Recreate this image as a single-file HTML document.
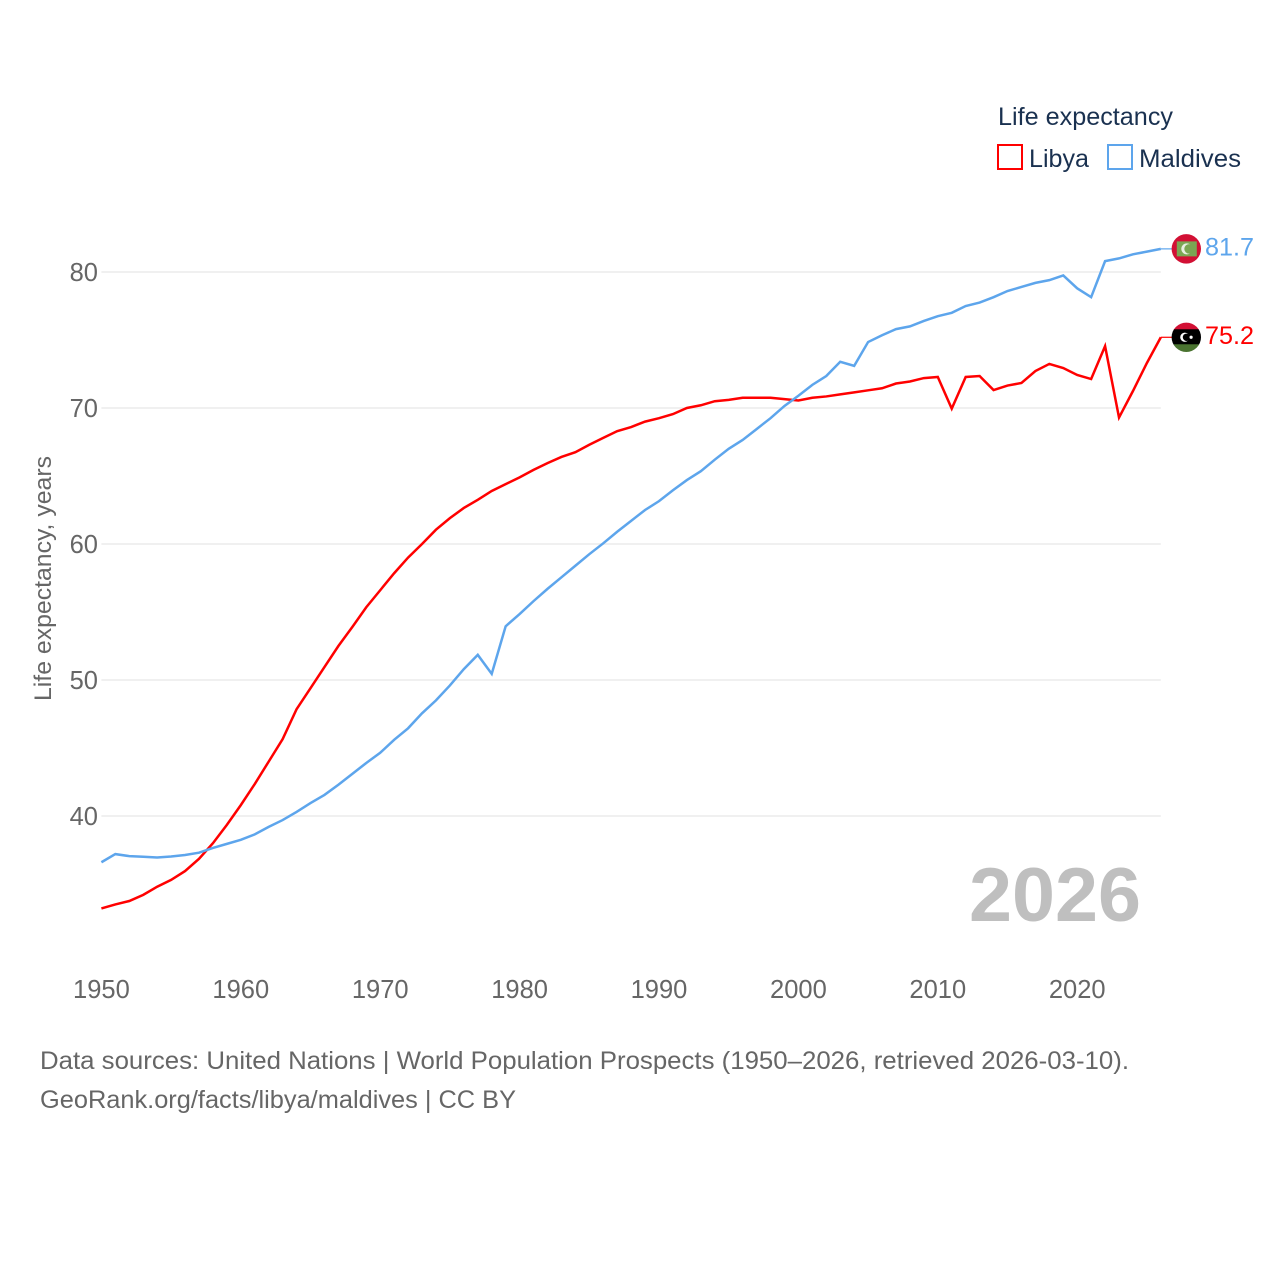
<!DOCTYPE html>
<html lang="en">
<head>
<meta charset="utf-8">
<title>Life expectancy: Libya and Maldives</title>
<style>
html,body{margin:0;padding:0;background:#fff;}
svg{display:block;}
text{font-family:"Liberation Sans",sans-serif;}
</style>
</head>
<body>
<svg id="chart" width="1280" height="1280" viewBox="0 0 1280 1280" xmlns="http://www.w3.org/2000/svg">
  <defs>
    <clipPath id="libya-clip"><circle cx="0" cy="0" r="14.7"/></clipPath>
    <clipPath id="maldives-clip"><circle cx="0" cy="0" r="14.7"/></clipPath>
  </defs>
  <rect x="0" y="0" width="1280" height="1280" fill="#ffffff"/>
  <g id="grid"></g>
  <g id="y-ticks"></g>
  <g id="x-ticks"></g>
  <text transform="translate(51,701) rotate(-90)" font-size="24" fill="#666666" textLength="245" lengthAdjust="spacingAndGlyphs">Life expectancy, years</text>
  <text x="969" y="921" font-size="76" font-weight="700" fill="#bfbfbf" textLength="172" lengthAdjust="spacingAndGlyphs">2026</text>
  <g id="series"></g>
  <g>
    <text x="998" y="125" font-size="25" fill="#1a3150" textLength="175" lengthAdjust="spacingAndGlyphs">Life expectancy</text>
    <rect x="998" y="145" width="24" height="24" fill="none" stroke="#ff0000" stroke-width="2"/>
    <text x="1029" y="167" font-size="25" fill="#1a3150" textLength="60" lengthAdjust="spacingAndGlyphs">Libya</text>
    <rect x="1108" y="145" width="24" height="24" fill="none" stroke="#5da5ec" stroke-width="2"/>
    <text x="1139" y="167" font-size="25" fill="#1a3150" textLength="102" lengthAdjust="spacingAndGlyphs">Maldives</text>
  </g>
  <g id="flag-maldives">
    <g clip-path="url(#maldives-clip)">
      <rect x="-15" y="-15" width="30" height="30" fill="#d21034"/>
      <rect x="-9.5" y="-7.5" width="20" height="15" fill="#7ba653"/>
      <circle cx="0.5" cy="0" r="5.5" fill="#e8eee0"/>
      <circle cx="2.8" cy="0" r="4.8" fill="#7ba653"/>
    </g>
  </g>
  <g id="flag-libya">
    <g clip-path="url(#libya-clip)">
      <rect x="-15" y="-15" width="30" height="8" fill="#d21034"/>
      <rect x="-15" y="-8" width="30" height="15.5" fill="#000000"/>
      <rect x="-15" y="7" width="30" height="8" fill="#4a7330"/>
      <circle cx="-1.5" cy="0" r="4.6" fill="#ffffff"/>
      <circle cx="0.2" cy="0" r="3.7" fill="#000000"/>
      <circle cx="4.8" cy="0" r="1.6" fill="#ffffff"/>
    </g>
  </g>
  <text x="40" y="1069" font-size="25" fill="#666666" textLength="1089" lengthAdjust="spacingAndGlyphs">Data sources: United Nations | World Population Prospects (1950–2026, retrieved 2026-03-10).</text>
  <text x="40" y="1108" font-size="25" fill="#666666" textLength="476" lengthAdjust="spacingAndGlyphs">GeoRank.org/facts/libya/maldives | CC BY</text>
</svg>
<script>
const startYear = 1950;
const yTickValues = [40, 50, 60, 70, 80];
const xTickValues = [1950, 1960, 1970, 1980, 1990, 2000, 2010, 2020];
const libyaValues = [
  33.2, 33.5, 33.75, 34.2, 34.8, 35.3, 35.95, 36.85, 38.0, 39.35,
  40.8, 42.35, 44.0, 45.65, 47.85, 49.4, 50.95, 52.5, 53.9, 55.35,
  56.6, 57.85, 59.0, 60.0, 61.05, 61.9, 62.65, 63.25, 63.9, 64.4,
  64.9, 65.45, 65.95, 66.4, 66.75, 67.3, 67.8, 68.3, 68.6, 69.0,
  69.25, 69.55, 70.0, 70.2, 70.5, 70.6, 70.75, 70.75, 70.75, 70.65,
  70.55, 70.75, 70.85, 71.0, 71.15, 71.3, 71.45, 71.8, 71.95, 72.2,
  72.28, 69.95, 72.28, 72.35, 71.32, 71.65, 71.84, 72.72, 73.24, 72.94,
  72.43, 72.13, 74.55, 69.3, 71.25, 73.31, 75.2
];
const maldivesValues = [
  36.6, 37.2, 37.05, 37.0, 36.95, 37.02, 37.13, 37.3, 37.65, 37.95,
  38.25, 38.65, 39.2, 39.7, 40.3, 40.95, 41.55, 42.3, 43.1, 43.9,
  44.65, 45.6, 46.45, 47.55, 48.5, 49.6, 50.8, 51.85, 50.45, 53.95,
  54.85, 55.8, 56.7, 57.55, 58.4, 59.25, 60.05, 60.9, 61.7, 62.5,
  63.15, 63.95, 64.7, 65.35, 66.2, 67.0, 67.65, 68.45, 69.25, 70.15,
  70.9, 71.7, 72.35, 73.4, 73.1, 74.85, 75.35, 75.8, 76.0, 76.4,
  76.75, 77.0, 77.5, 77.75, 78.15, 78.6, 78.9, 79.2, 79.4, 79.75,
  78.8, 78.15, 80.8, 81.0, 81.3, 81.5, 81.7
];

const SVG_NS = 'http://www.w3.org/2000/svg';
function xScale(year) { return 101.4 + (year - 1950) * 13.94; }
function yScale(value) { return 816 - (value - 40) * 13.6; }
const plotRight = xScale(2026);

const gridGroup = document.getElementById('grid');
const yTickGroup = document.getElementById('y-ticks');
const xTickGroup = document.getElementById('x-ticks');
const seriesGroup = document.getElementById('series');
const chartRoot = document.getElementById('chart');

yTickValues.forEach(function (v) {
  const line = document.createElementNS(SVG_NS, 'line');
  
  
  line.setAttribute('x1', xScale(1950));
  line.setAttribute('x2', plotRight);
  line.setAttribute('y1', yScale(v));
  line.setAttribute('y2', yScale(v));
  line.setAttribute('stroke', '#ececec');
  line.setAttribute('stroke-width', '1.6');
  gridGroup.appendChild(line);

  const label = document.createElementNS(SVG_NS, 'text');
  
  
  label.setAttribute('x', 98);
  label.setAttribute('y', yScale(v) + 9);
  label.setAttribute('text-anchor', 'end');
  label.setAttribute('font-size', '25.5');
  label.setAttribute('fill', '#666666');
  label.textContent = String(v);
  yTickGroup.appendChild(label);
});

xTickValues.forEach(function (yr) {
  const label = document.createElementNS(SVG_NS, 'text');
  
  
  label.setAttribute('x', xScale(yr));
  label.setAttribute('y', 998);
  label.setAttribute('text-anchor', 'middle');
  label.setAttribute('font-size', '25.5');
  label.setAttribute('fill', '#666666');
  label.textContent = String(yr);
  xTickGroup.appendChild(label);
});

function linePath(values) {
  return values.map(function (v, i) {
    return (i ? 'L' : 'M') + xScale(startYear + i).toFixed(2) + ' ' + yScale(v).toFixed(2);
  }).join(' ');
}

function drawSeries(values, color, key) {
  const path = document.createElementNS(SVG_NS, 'path');
  
  
  path.setAttribute('d', linePath(values));
  path.setAttribute('fill', 'none');
  path.setAttribute('stroke', color);
  path.setAttribute('stroke-width', '2.5');
  path.setAttribute('stroke-linejoin', 'miter');
  seriesGroup.appendChild(path);

  const last = values[values.length - 1];
  const endY = yScale(last);

  const connector = document.createElementNS(SVG_NS, 'line');
  
  
  connector.setAttribute('x1', plotRight);
  connector.setAttribute('x2', 1172);
  connector.setAttribute('y1', endY);
  connector.setAttribute('y2', endY);
  connector.setAttribute('stroke', color);
  connector.setAttribute('stroke-width', '1.2');
  seriesGroup.appendChild(connector);

  const value = document.createElementNS(SVG_NS, 'text');
  
  
  value.setAttribute('x', 1205);
  value.setAttribute('y', endY + 6.5);
  value.setAttribute('font-size', '25');
  value.setAttribute('fill', color);
  value.setAttribute('textLength', '49');
  value.setAttribute('lengthAdjust', 'spacingAndGlyphs');
  value.textContent = last.toFixed(1);
  chartRoot.appendChild(value);

  document.getElementById('flag-' + key).setAttribute('transform', 'translate(1186.3,' + endY + ')');
}

drawSeries(libyaValues, '#ff0000', 'libya');
drawSeries(maldivesValues, '#5da5ec', 'maldives');
</script>
</body>
</html>
